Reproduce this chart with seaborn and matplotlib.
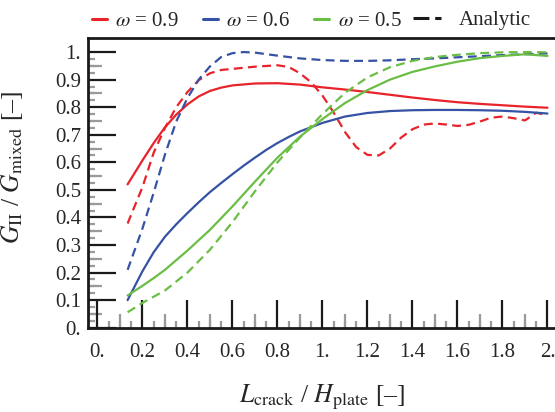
import numpy as np
import pandas as pd
import matplotlib
matplotlib.use("Agg")
import matplotlib.pyplot as plt
import seaborn as sns
from matplotlib.ticker import FixedLocator
from matplotlib.lines import Line2D

# ---------------- data ----------------
x_red_fem = [0.134, 0.2, 0.25, 0.3, 0.35, 0.4, 0.45, 0.5, 0.55, 0.6, 0.7, 0.8, 0.9, 1.0,
             1.1, 1.2, 1.3, 1.4, 1.5, 1.6, 1.7, 1.8, 1.9, 2.0]
y_red_fem = [0.52, 0.607, 0.67, 0.727, 0.773, 0.81, 0.839, 0.859, 0.871, 0.879, 0.886, 0.887,
             0.882, 0.872, 0.864, 0.855, 0.845, 0.835, 0.826, 0.818, 0.812, 0.807, 0.802, 0.798]

x_red_ana = [0.134, 0.2, 0.25, 0.3, 0.35, 0.4, 0.45, 0.5, 0.55, 0.6, 0.7, 0.8, 0.85, 0.9, 0.95,
             1.0, 1.05, 1.1, 1.15, 1.2, 1.25, 1.3, 1.35, 1.4, 1.45, 1.5, 1.55, 1.6, 1.65, 1.7,
             1.75, 1.8, 1.85, 1.9, 1.95, 2.0]
y_red_ana = [0.378, 0.51, 0.635, 0.725, 0.80, 0.855, 0.898, 0.923, 0.935, 0.939, 0.947, 0.952,
             0.946, 0.923, 0.89, 0.842, 0.78, 0.71, 0.655, 0.627, 0.625, 0.65, 0.69, 0.72, 0.737,
             0.741, 0.737, 0.732, 0.736, 0.748, 0.762, 0.766, 0.76, 0.752, 0.78, 0.77]

x_blue_fem = [0.134, 0.2, 0.25, 0.3, 0.35, 0.4, 0.45, 0.5, 0.55, 0.6, 0.65, 0.7, 0.75, 0.8, 0.85,
              0.9, 1.0, 1.1, 1.2, 1.3, 1.4, 1.5, 1.6, 1.7, 1.8, 1.9, 2.0]
y_blue_fem = [0.10, 0.205, 0.274, 0.33, 0.375, 0.416, 0.455, 0.492, 0.525, 0.557, 0.588, 0.617,
              0.645, 0.67, 0.692, 0.712, 0.743, 0.766, 0.779, 0.786, 0.789, 0.790, 0.790, 0.789,
              0.787, 0.783, 0.777]

x_blue_ana = [0.134, 0.2, 0.25, 0.3, 0.35, 0.4, 0.45, 0.5, 0.55, 0.6, 0.65, 0.7, 0.8, 0.9, 1.0,
              1.1, 1.2, 1.3, 1.4, 1.5, 1.6, 1.7, 1.8, 1.9, 2.0]
y_blue_ana = [0.21, 0.36, 0.49, 0.628, 0.748, 0.833, 0.9, 0.948, 0.982, 0.996, 1.0, 0.998, 0.987,
              0.977, 0.971, 0.968, 0.968, 0.970, 0.974, 0.977, 0.981, 0.985, 0.989, 0.992, 0.995]

x_green_fem = [0.134, 0.2, 0.25, 0.3, 0.4, 0.5, 0.6, 0.7, 0.8, 0.9, 1.0, 1.1, 1.2, 1.3, 1.4, 1.5,
               1.6, 1.7, 1.8, 1.9, 2.0]
y_green_fem = [0.117, 0.152, 0.18, 0.21, 0.28, 0.355, 0.44, 0.53, 0.617, 0.693, 0.757, 0.815,
               0.862, 0.90, 0.928, 0.948, 0.965, 0.978, 0.986, 0.992, 0.986]

x_green_ana = [0.134, 0.2, 0.3, 0.4, 0.5, 0.6, 0.7, 0.8, 0.9, 1.0, 1.1, 1.2, 1.3, 1.4, 1.5, 1.6,
               1.7, 1.8, 1.9, 2.0]
y_green_ana = [0.056, 0.09, 0.135, 0.20, 0.283, 0.383, 0.495, 0.60, 0.69, 0.775, 0.852, 0.908,
               0.945, 0.968, 0.982, 0.99, 0.996, 0.999, 1.0, 0.999]

omegas = ["0.9", "0.6", "0.5"]
colors = {"0.9": "#E8232A", "0.6": "#3552A4", "0.5": "#6ABD45"}

x_ticks = [0.0, 0.2, 0.4, 0.6, 0.8, 1.0, 1.2, 1.4, 1.6, 1.8, 2.0]
x_tick_labels = ["0.", "0.2", "0.4", "0.6", "0.8", "1.", "1.2", "1.4", "1.6", "1.8", "2."]
y_ticks = [0.0, 0.1, 0.2, 0.3, 0.4, 0.5, 0.6, 0.7, 0.8, 0.9, 1.0]
y_tick_labels = ["0.", "0.1", "0.2", "0.3", "0.4", "0.5", "0.6", "0.7", "0.8", "0.9", "1."]

# ---------------- style ----------------
sns.set_style("ticks")
plt.rcParams["font.family"] = ["Liberation Serif", "DejaVu Serif"]
plt.rcParams["mathtext.fontset"] = "stix"

series = [
    ("0.9", "FEM", x_red_fem, y_red_fem),
    ("0.9", "Analytic", x_red_ana, y_red_ana),
    ("0.6", "FEM", x_blue_fem, y_blue_fem),
    ("0.6", "Analytic", x_blue_ana, y_blue_ana),
    ("0.5", "FEM", x_green_fem, y_green_fem),
    ("0.5", "Analytic", x_green_ana, y_green_ana),
]
df = pd.concat(
    [pd.DataFrame({"x": xs, "y": ys, "omega": om, "kind": k}) for om, k, xs, ys in series],
    ignore_index=True,
)

fig = plt.figure(figsize=(5.55, 4.12), dpi=100)
L, R, B, T = 88, 556.5, 327.7, 38
ax = fig.add_axes([L / 555, (412 - B) / 412, (R - L) / 555, (B - T) / 412])

sns.lineplot(data=df, x="x", y="y", hue="omega", hue_order=omegas, palette=colors,
             style="kind", style_order=["FEM", "Analytic"],
             dashes={"FEM": "", "Analytic": (4, 2.4)},
             estimator=None, sort=False, lw=1.6, legend=False, ax=ax)
for ln in ax.get_lines():
    ln.set_solid_joinstyle("round")
    ln.set_dash_joinstyle("round")

ax.set_xlim(-0.042, 2.04)
ax.set_ylim(0, 1.051)

for s in ax.spines.values():
    s.set_linewidth(2.0)
    s.set_color("#1a1a1a")

ax.set_xticks(x_ticks, x_tick_labels)
ax.set_yticks(y_ticks, y_tick_labels)
ax.tick_params(which="major", direction="in", length=20, width=1.6, color="#1a1a1a",
               labelsize=15, top=False, right=False)
ax.tick_params(axis="x", which="major", pad=11)
ax.tick_params(axis="y", which="major", pad=5)

gray = "#9a9a9a"
x_minor = np.round(np.arange(0.05, 2.0, 0.05), 3)
y_minor = np.round(np.arange(0.025, 1.0, 0.025), 3)
ax.xaxis.set_minor_locator(FixedLocator(x_minor))
ax.yaxis.set_minor_locator(FixedLocator(y_minor))
ax.tick_params(which="minor", direction="in", length=5, width=1.6, color=gray)

secx = ax.secondary_xaxis("bottom")
secx.set_xticks(np.round(np.arange(0.1, 2.0, 0.2), 3))
secx.tick_params(direction="in", length=10, width=1.6, color=gray, labelbottom=False)
secx.spines["bottom"].set_visible(False)
secx.xaxis.set_minor_locator(FixedLocator([]))

secy = ax.secondary_yaxis("left")
secy.set_yticks(np.round(np.arange(0.05, 1.0, 0.1), 3))
secy.tick_params(direction="in", length=10, width=1.6, color=gray, labelleft=False)
secy.spines["left"].set_visible(False)
secy.yaxis.set_minor_locator(FixedLocator([]))

ax.set_xlabel(r"$L_{\mathrm{crack}}$ / $H_{\mathrm{plate}}$ [–]", fontsize=18.5)
ax.set_ylabel(r"$G_{\mathrm{II}}$ / $G_{\mathrm{mixed}}$ [–]", fontsize=18.5)
ax.xaxis.set_label_coords(0.5, -0.19)
ax.yaxis.set_label_coords(-0.135, 0.555)

# legends
col_handles = [Line2D([], [], color=colors[o], lw=2.2) for o in omegas]
col_labels = [r"$\omega$ = " + o for o in omegas]
leg1 = fig.legend(col_handles, col_labels, loc="center left", bbox_to_anchor=(92 / 555, 1 - 21 / 412),
                  ncol=3, frameon=False, fontsize=15, handlelength=0.72, handletextpad=0.4,
                  columnspacing=1.15, borderaxespad=0, borderpad=0)
ana_handle = Line2D([], [], color="#1a1a1a", lw=2.2, dashes=(5.2, 1.9))
leg2 = fig.legend([ana_handle], ["Analytic"], loc="center left", bbox_to_anchor=(413 / 555, 1 - 20 / 412),
                  frameon=False, fontsize=15, handlelength=1.35, handletextpad=0.85,
                  borderaxespad=0, borderpad=0)

fig.savefig("out.png", dpi=100)
